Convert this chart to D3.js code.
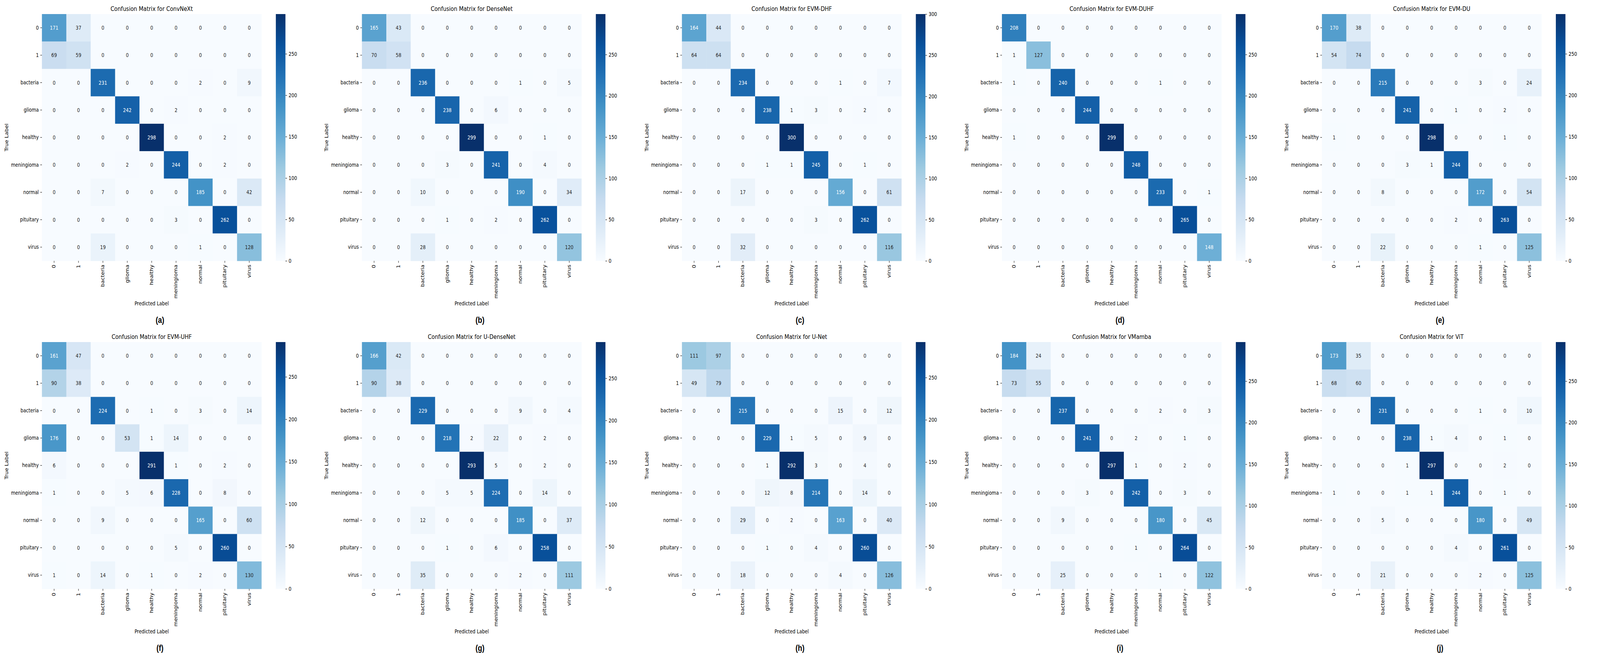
<!DOCTYPE html>
<html>
<head>
<meta charset="utf-8">
<script src="https://cdn.jsdelivr.net/npm/d3@7"></script>
<style>
  html, body { margin: 0; padding: 0; background: #ffffff; width: 100%; height: 100%; overflow: hidden; }
  svg { display: block; width: 100vw; height: 100vh; }
</style>
</head>
<body>
<svg id="chart" viewBox="0 0 5000 1680" preserveAspectRatio="none"></svg>
<script>
// ---------------- DATA ----------------
const classes = ["0", "1", "bacteria", "glioma", "healthy", "meningioma", "normal", "pituitary", "virus"];
const models = ["ConvNeXt", "DenseNet", "EVM-DHF", "EVM-DUHF", "EVM-DU", "EVM-UHF", "U-DenseNet", "U-Net", "VMamba", "ViT"];
const panelLetters = ["(a)", "(b)", "(c)", "(d)", "(e)", "(f)", "(g)", "(h)", "(i)", "(j)"];
const colorbarTicks = [0, 50, 100, 150, 200, 250, 300];

const cmConvNeXt = [
  [171, 37, 0, 0, 0, 0, 0, 0, 0],
  [69, 59, 0, 0, 0, 0, 0, 0, 0],
  [0, 0, 231, 0, 0, 0, 2, 0, 9],
  [0, 0, 0, 242, 0, 2, 0, 0, 0],
  [0, 0, 0, 0, 298, 0, 0, 2, 0],
  [0, 0, 0, 2, 0, 244, 0, 2, 0],
  [0, 0, 7, 0, 0, 0, 185, 0, 42],
  [0, 0, 0, 0, 0, 3, 0, 262, 0],
  [0, 0, 19, 0, 0, 0, 1, 0, 128]
];
const cmDenseNet = [
  [165, 43, 0, 0, 0, 0, 0, 0, 0],
  [70, 58, 0, 0, 0, 0, 0, 0, 0],
  [0, 0, 236, 0, 0, 0, 1, 0, 5],
  [0, 0, 0, 238, 0, 6, 0, 0, 0],
  [0, 0, 0, 0, 299, 0, 0, 1, 0],
  [0, 0, 0, 3, 0, 241, 0, 4, 0],
  [0, 0, 10, 0, 0, 0, 190, 0, 34],
  [0, 0, 0, 1, 0, 2, 0, 262, 0],
  [0, 0, 28, 0, 0, 0, 0, 0, 120]
];
const cmEVMDHF = [
  [164, 44, 0, 0, 0, 0, 0, 0, 0],
  [64, 64, 0, 0, 0, 0, 0, 0, 0],
  [0, 0, 234, 0, 0, 0, 1, 0, 7],
  [0, 0, 0, 238, 1, 3, 0, 2, 0],
  [0, 0, 0, 0, 300, 0, 0, 0, 0],
  [0, 0, 0, 1, 1, 245, 0, 1, 0],
  [0, 0, 17, 0, 0, 0, 156, 0, 61],
  [0, 0, 0, 0, 0, 3, 0, 262, 0],
  [0, 0, 32, 0, 0, 0, 0, 0, 116]
];
const cmEVMDUHF = [
  [208, 0, 0, 0, 0, 0, 0, 0, 0],
  [1, 127, 0, 0, 0, 0, 0, 0, 0],
  [1, 0, 240, 0, 0, 0, 1, 0, 0],
  [0, 0, 0, 244, 0, 0, 0, 0, 0],
  [1, 0, 0, 0, 299, 0, 0, 0, 0],
  [0, 0, 0, 0, 0, 248, 0, 0, 0],
  [0, 0, 0, 0, 0, 0, 233, 0, 1],
  [0, 0, 0, 0, 0, 0, 0, 265, 0],
  [0, 0, 0, 0, 0, 0, 0, 0, 148]
];
const cmEVMDU = [
  [170, 38, 0, 0, 0, 0, 0, 0, 0],
  [54, 74, 0, 0, 0, 0, 0, 0, 0],
  [0, 0, 215, 0, 0, 0, 3, 0, 24],
  [0, 0, 0, 241, 0, 1, 0, 2, 0],
  [1, 0, 0, 0, 298, 0, 0, 1, 0],
  [0, 0, 0, 3, 1, 244, 0, 0, 0],
  [0, 0, 8, 0, 0, 0, 172, 0, 54],
  [0, 0, 0, 0, 0, 2, 0, 263, 0],
  [0, 0, 22, 0, 0, 0, 1, 0, 125]
];
const cmEVMUHF = [
  [161, 47, 0, 0, 0, 0, 0, 0, 0],
  [90, 38, 0, 0, 0, 0, 0, 0, 0],
  [0, 0, 224, 0, 1, 0, 3, 0, 14],
  [176, 0, 0, 53, 1, 14, 0, 0, 0],
  [6, 0, 0, 0, 291, 1, 0, 2, 0],
  [1, 0, 0, 5, 6, 228, 0, 8, 0],
  [0, 0, 9, 0, 0, 0, 165, 0, 60],
  [0, 0, 0, 0, 0, 5, 0, 260, 0],
  [1, 0, 14, 0, 1, 0, 2, 0, 130]
];
const cmUDenseNet = [
  [166, 42, 0, 0, 0, 0, 0, 0, 0],
  [90, 38, 0, 0, 0, 0, 0, 0, 0],
  [0, 0, 229, 0, 0, 0, 9, 0, 4],
  [0, 0, 0, 218, 2, 22, 0, 2, 0],
  [0, 0, 0, 0, 293, 5, 0, 2, 0],
  [0, 0, 0, 5, 5, 224, 0, 14, 0],
  [0, 0, 12, 0, 0, 0, 185, 0, 37],
  [0, 0, 0, 1, 0, 6, 0, 258, 0],
  [0, 0, 35, 0, 0, 0, 2, 0, 111]
];
const cmUNet = [
  [111, 97, 0, 0, 0, 0, 0, 0, 0],
  [49, 79, 0, 0, 0, 0, 0, 0, 0],
  [0, 0, 215, 0, 0, 0, 15, 0, 12],
  [0, 0, 0, 229, 1, 5, 0, 9, 0],
  [0, 0, 0, 1, 292, 3, 0, 4, 0],
  [0, 0, 0, 12, 8, 214, 0, 14, 0],
  [0, 0, 29, 0, 2, 0, 163, 0, 40],
  [0, 0, 0, 1, 0, 4, 0, 260, 0],
  [0, 0, 18, 0, 0, 0, 4, 0, 126]
];
const cmVMamba = [
  [184, 24, 0, 0, 0, 0, 0, 0, 0],
  [73, 55, 0, 0, 0, 0, 0, 0, 0],
  [0, 0, 237, 0, 0, 0, 2, 0, 3],
  [0, 0, 0, 241, 0, 2, 0, 1, 0],
  [0, 0, 0, 0, 297, 1, 0, 2, 0],
  [0, 0, 0, 3, 0, 242, 0, 3, 0],
  [0, 0, 9, 0, 0, 0, 180, 0, 45],
  [0, 0, 0, 0, 0, 1, 0, 264, 0],
  [0, 0, 25, 0, 0, 0, 1, 0, 122]
];
const cmViT = [
  [173, 35, 0, 0, 0, 0, 0, 0, 0],
  [68, 60, 0, 0, 0, 0, 0, 0, 0],
  [0, 0, 231, 0, 0, 0, 1, 0, 10],
  [0, 0, 0, 238, 1, 4, 0, 1, 0],
  [0, 0, 0, 1, 297, 0, 0, 2, 0],
  [1, 0, 0, 1, 1, 244, 0, 1, 0],
  [0, 0, 5, 0, 0, 0, 180, 0, 49],
  [0, 0, 0, 0, 0, 4, 0, 261, 0],
  [0, 0, 21, 0, 0, 0, 2, 0, 125]
];
const matrices = [cmConvNeXt, cmDenseNet, cmEVMDHF, cmEVMDUHF, cmEVMDU, cmEVMUHF, cmUDenseNet, cmUNet, cmVMamba, cmViT];

// ---------------- LAYOUT ----------------
const panelW = 1000, panelH = 840, nCols = 5;
const ax = { x0: 131, x1: 817, y0: 36, y1: 668 };
const cbar = { x0: 862, x1: 892 };
const FONT = "'DejaVu Sans', 'Liberation Sans', sans-serif";
const tickFont = 13.9, titleFont = 16.67;

// matplotlib "Blues" = linear segments through ColorBrewer Blues-9
const bluesStops = d3.schemeBlues[9];
const blues = d3.scaleLinear()
  .domain(d3.range(9).map(i => i / 8))
  .range(bluesStops)
  .interpolate(d3.interpolateRgb)
  .clamp(true);

function relLum(c) {
  const rgb = d3.rgb(c);
  const f = v => { v /= 255; return v <= 0.03928 ? v / 12.92 : Math.pow((v + 0.055) / 1.055, 2.4); };
  return 0.2126 * f(rgb.r) + 0.7152 * f(rgb.g) + 0.0722 * f(rgb.b);
}

const svg = d3.select("#chart");
svg.append("rect").attr("width", 5000).attr("height", 1680).attr("fill", "#ffffff");

const defs = svg.append("defs");
const grad = defs.append("linearGradient").attr("id", "bluesGrad")
  .attr("x1", 0).attr("y1", 1).attr("x2", 0).attr("y2", 0);
bluesStops.forEach((c, i) => {
  grad.append("stop").attr("offset", (i / 8 * 100) + "%").attr("stop-color", c);
});

matrices.forEach((m, k) => {
  const col = k % nCols, row = Math.floor(k / nCols);
  const g = svg.append("g").attr("transform", `translate(${col * panelW},${row * panelH})`);
  const vmax = d3.max(m.flat());
  const norm = d3.scaleLinear().domain([0, vmax]).range([0, 1]);

  const x = d3.scaleBand().domain(classes).range([ax.x0, ax.x1]).paddingInner(0).paddingOuter(0);
  const y = d3.scaleBand().domain(classes).range([ax.y0, ax.y1]).paddingInner(0).paddingOuter(0);

  const cells = [];
  m.forEach((r, i) => r.forEach((v, j) => cells.push({ i, j, v })));

  g.append("g").selectAll("rect").data(cells).join("rect")
    .attr("x", d => x(classes[d.j]))
    .attr("y", d => y(classes[d.i]))
    .attr("width", x.bandwidth() + 0.5)
    .attr("height", y.bandwidth() + 0.5)
    .attr("fill", d => blues(norm(d.v)));

  g.append("g").selectAll("text").data(cells).join("text")
    .attr("x", d => x(classes[d.j]) + x.bandwidth() / 2)
    .attr("y", d => y(classes[d.i]) + y.bandwidth() / 2)
    .attr("text-anchor", "middle")
    .attr("dy", "0.36em")
    .attr("font-family", FONT)
    .attr("font-size", tickFont)
    .attr("fill", d => relLum(blues(norm(d.v))) > 0.408 ? "#262626" : "#ffffff")
    .text(d => d.v);

  // Y axis
  const yAxis = g.append("g").attr("transform", `translate(${ax.x0},0)`)
    .call(d3.axisLeft(y).tickSize(4.9).tickPadding(4.9).tickSizeOuter(0));
  yAxis.select(".domain").remove();
  yAxis.selectAll("text").attr("font-family", FONT).attr("font-size", tickFont).attr("fill", "#000");
  yAxis.selectAll("line").attr("stroke", "#000").attr("stroke-width", 1.1);

  // X axis
  const xAxis = g.append("g").attr("transform", `translate(0,${ax.y1})`)
    .call(d3.axisBottom(x).tickSize(4.9).tickPadding(4.9).tickSizeOuter(0));
  xAxis.select(".domain").remove();
  xAxis.selectAll("line").attr("stroke", "#000").attr("stroke-width", 1.1);
  xAxis.selectAll("text")
    .attr("font-family", FONT).attr("font-size", tickFont).attr("fill", "#000")
    .attr("transform", "rotate(-90)")
    .attr("text-anchor", "end")
    .attr("x", -(4.9 + 4.9))
    .attr("y", 0)
    .attr("dy", "0.32em");

  // Title
  g.append("text")
    .attr("x", (ax.x0 + ax.x1) / 2).attr("y", 28.5)
    .attr("text-anchor", "middle")
    .attr("font-family", FONT).attr("font-size", titleFont).attr("fill", "#000")
    .text("Confusion Matrix for " + models[k]);

  // Axis labels
  g.append("text")
    .attr("x", (ax.x0 + ax.x1) / 2).attr("y", 782)
    .attr("text-anchor", "middle")
    .attr("font-family", FONT).attr("font-size", tickFont).attr("fill", "#000")
    .text("Predicted Label");

  g.append("text")
    .attr("transform", `translate(26,${(ax.y0 + ax.y1) / 2}) rotate(-90)`)
    .attr("text-anchor", "middle")
    .attr("font-family", FONT).attr("font-size", tickFont).attr("fill", "#000")
    .text("True Label");

  // Panel letter
  g.append("text")
    .attr("x", panelW / 2).attr("y", 827)
    .attr("text-anchor", "middle")
    .attr("font-family", "'Liberation Sans', Arial, sans-serif")
    .attr("font-weight", "bold")
    .attr("font-size", 22).attr("fill", "#000")
    .text(panelLetters[k]);

  // Colorbar
  g.append("rect")
    .attr("x", cbar.x0).attr("y", ax.y0)
    .attr("width", cbar.x1 - cbar.x0).attr("height", ax.y1 - ax.y0)
    .attr("fill", "url(#bluesGrad)");
  const cScale = d3.scaleLinear().domain([0, vmax]).range([ax.y1, ax.y0]);
  const cAxis = g.append("g").attr("transform", `translate(${cbar.x1},0)`)
    .call(d3.axisRight(cScale).tickValues(colorbarTicks.filter(t => t <= vmax))
      .tickSize(4.9).tickPadding(4.9).tickSizeOuter(0).tickFormat(d3.format("d")));
  cAxis.select(".domain").remove();
  cAxis.selectAll("line").attr("stroke", "#000").attr("stroke-width", 1.1);
  cAxis.selectAll("text").attr("font-family", FONT).attr("font-size", tickFont).attr("fill", "#000");
});
</script>
</body>
</html>
